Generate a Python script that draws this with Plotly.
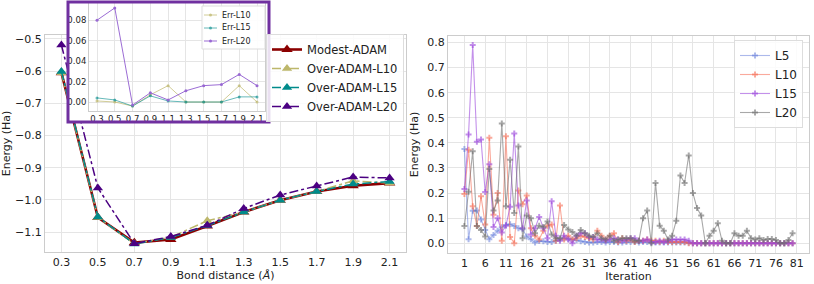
import plotly.graph_objects as go

W, H = 814, 284

# ---------------- data ----------------
bond = [0.3, 0.5, 0.7, 0.9, 1.1, 1.3, 1.5, 1.7, 1.9, 2.1]
modest = [-0.605, -1.055, -1.133, -1.123, -1.081, -1.038, -1.001, -0.974, -0.956, -0.948]
over_l10 = [-0.605, -1.055, -1.136, -1.116, -1.065, -1.038, -1.001, -0.974, -0.941, -0.948]
over_l15 = [-0.601, -1.053, -1.137, -1.117, -1.080, -1.038, -1.001, -0.974, -0.951, -0.943]
over_l20 = [-0.519, -0.963, -1.136, -1.114, -1.079, -1.027, -0.985, -0.957, -0.929, -0.932]

err_l10 = [0.001, 0.000, -0.004, 0.007, 0.016, 0.000, 0.000, 0.000, 0.016, 0.000]
err_l15 = [0.004, 0.002, -0.004, 0.006, 0.001, 0.000, 0.000, 0.000, 0.005, 0.005]
err_l20 = [0.080, 0.092, -0.003, 0.009, 0.002, 0.011, 0.016, 0.017, 0.027, 0.016]

iterations = list(range(1, 81))
it_l5 = [0.376, 0.016, 0.129, 0.130, 0.095, 0.053, 0.016, 0.033, 0.050, 0.064,
         0.073, 0.076, 0.069, 0.060, 0.056, 0.027, 0.016, 0.003, 0.009, 0.008,
         0.005, 0.005, 0.010, 0.015, 0.020, 0.018, 0.015, 0.012, 0.008, 0.005,
         0.003, 0.003, 0.005, 0.005, 0.003, 0.005, 0.005, 0.003, 0.003, 0.005,
         0.005, 0.005, 0.003, 0.005, 0.005, 0.003, 0.003, 0.003, 0.003, 0.003,
         0.003, 0.003, 0.003, 0.003, 0.002, 0.000, 0.000, 0.000, 0.000, 0.000,
         0.000, 0.000, 0.000, 0.000, 0.000, 0.000, 0.000, 0.000, 0.000, 0.000,
         0.000, 0.000, 0.000, 0.000, 0.000, 0.000, 0.000, 0.000, 0.000, 0.000]
it_l10 = [0.196, 0.373, 0.147, 0.069, 0.187, 0.075, 0.420, 0.113, 0.200, 0.010,
          0.426, 0.025, 0.000, 0.210, 0.155, 0.190, 0.060, 0.030, 0.015, 0.050,
          0.070, 0.075, 0.010, 0.150, 0.015, 0.030, 0.015, 0.020, 0.030, 0.025,
          0.020, 0.015, 0.050, 0.030, 0.015, 0.030, 0.040, 0.005, 0.020, 0.010,
          0.015, 0.005, 0.010, 0.010, 0.015, 0.010, 0.010, 0.005, 0.010, 0.005,
          0.005, 0.005, 0.005, 0.005, 0.000, 0.000, 0.000, 0.000, 0.000, 0.000,
          0.000, 0.000, 0.000, 0.000, 0.000, 0.000, 0.000, 0.000, 0.000, 0.000,
          0.000, 0.000, 0.000, 0.000, 0.000, 0.000, 0.000, 0.000, 0.000, 0.000]
it_l15 = [0.216, 0.433, 0.790, 0.404, 0.413, 0.204, 0.315, 0.065, 0.100, 0.043,
          0.070, 0.145, 0.437, 0.150, 0.060, 0.170, 0.035, 0.060, 0.105, 0.060,
          0.020, 0.167, 0.030, 0.010, 0.030, 0.015, 0.000, 0.030, 0.040, 0.040,
          0.025, 0.025, 0.015, 0.015, 0.010, 0.015, 0.020, 0.015, 0.010, 0.015,
          0.020, 0.020, 0.010, 0.010, 0.015, 0.005, 0.005, 0.010, 0.005, 0.010,
          0.015, 0.015, 0.015, 0.015, 0.010, 0.000, 0.000, 0.000, 0.000, 0.000,
          0.000, 0.000, 0.000, 0.000, 0.000, 0.000, 0.000, 0.000, 0.000, 0.000,
          0.000, 0.000, 0.000, 0.000, 0.000, 0.000, 0.000, 0.000, 0.000, 0.000]
it_l20 = [0.069, 0.205, 0.367, 0.069, 0.053, 0.027, 0.296, 0.130, 0.170, 0.477,
          0.147, 0.333, 0.120, 0.386, 0.020, 0.110, 0.100, 0.040, 0.070, 0.065,
          0.087, 0.035, 0.020, 0.020, 0.073, 0.055, 0.045, 0.030, 0.053, 0.040,
          0.030, 0.025, 0.040, 0.020, 0.015, 0.030, 0.010, 0.015, 0.020, 0.020,
          0.020, 0.010, 0.010, 0.100, 0.130, 0.000, 0.240, 0.070, 0.050, 0.015,
          0.030, 0.090, 0.270, 0.240, 0.350, 0.200, 0.140, 0.110, 0.000, 0.030,
          0.050, 0.080, 0.010, 0.000, 0.000, 0.040, 0.030, 0.030, 0.050, 0.020,
          0.015, 0.020, 0.013, 0.017, 0.017, 0.013, 0.000, 0.000, 0.013, 0.040]

# ---------------- helpers ----------------
def px(x):
    return x / W

def py(y):
    return 1 - y / H

FONT = "DejaVu Sans"
GRID = "#e5e5e5"
FRAME = "#cccccc"

fig = go.Figure()

# --- main left chart ---
main_series = [
    ("Modest-ADAM", modest, "#8b0000", "solid", 2.6, 10),
    ("Over-ADAM-L10", over_l10, "#bdb76b", "dashdot", 1.5, 9),
    ("Over-ADAM-L15", over_l15, "#008b8b", "dashdot", 1.5, 9),
    ("Over-ADAM-L20", over_l20, "#4b0082", "dashdot", 1.5, 9),
]
for name, ys, col, dash, lw, ms in main_series:
    fig.add_trace(go.Scatter(
        x=bond, y=ys, name=name, mode="lines+markers",
        line=dict(color=col, width=lw, dash=dash),
        marker=dict(symbol="triangle-up", size=ms, color=col),
        xaxis="x", yaxis="y", legend="legend"))

# --- white cover for inset box ---
fig.add_trace(go.Scatter(x=[0], y=[0], mode="markers", marker=dict(opacity=0),
                         showlegend=False, hoverinfo="skip", xaxis="x2", yaxis="y2"))

# --- inset ---
inset_series = [
    ("Err-L10", err_l10, "rgba(189,183,107,0.7)"),
    ("Err-L15", err_l15, "rgba(0,139,139,0.6)"),
    ("Err-L20", err_l20, "rgba(150,100,210,0.95)"),
]
for name, ys, col in inset_series:
    fig.add_trace(go.Scatter(
        x=bond, y=ys, name=name, mode="lines+markers",
        line=dict(color=col, width=1),
        marker=dict(symbol="circle", size=3, color=col),
        xaxis="x3", yaxis="y3", showlegend=False))

# --- right chart ---
right_series = [
    ("L5", it_l5, "rgba(90,115,215,0.5)"),
    ("L10", it_l10, "rgba(245,100,75,0.55)"),
    ("L15", it_l15, "rgba(155,70,220,0.6)"),
    ("L20", it_l20, "rgba(110,110,110,0.6)"),
]
for name, ys, col in right_series:
    fig.add_trace(go.Scatter(
        x=iterations, y=ys, name=name, mode="lines+markers",
        line=dict(color=col, width=1.1),
        marker=dict(symbol="cross", size=5, color=col),
        xaxis="x4", yaxis="y4", legend="legend3"))

tickfont = dict(family=FONT, size=11, color="#222")
titlefont = dict(family=FONT, size=11, color="#222")

common = dict(showgrid=True, gridcolor=GRID, gridwidth=1, zeroline=False,
              showline=True, linecolor=FRAME, linewidth=1, mirror=True,
              ticks="", tickfont=tickfont, automargin=False)
small = {**common, "tickfont": dict(family=FONT, size=8.5, color="#222")}

# --- compact legend for the inset (drawn as layout decorations) ---
shapes = [dict(type="rect", xref="paper", yref="paper",
               x0=px(202), x1=px(265), y0=py(49), y1=py(6),
               line=dict(color="#dddddd", width=1), fillcolor="rgba(255,255,255,0.9)",
               layer="above")]
annotations = []
for k, (name, _, col) in enumerate(inset_series):
    yy = 15 + 13 * k
    shapes.append(dict(type="line", xref="paper", yref="paper",
                       x0=px(204), x1=px(217), y0=py(yy), y1=py(yy),
                       line=dict(color=col, width=1), layer="above"))
    shapes.append(dict(type="circle", xref="paper", yref="paper",
                       x0=px(209), x1=px(212), y0=py(yy + 1.5), y1=py(yy - 1.5),
                       line=dict(color=col, width=0), fillcolor=col, layer="above"))
    annotations.append(dict(text=name, xref="paper", yref="paper", x=px(220), y=py(yy),
                            xanchor="left", yanchor="middle", showarrow=False,
                            font=dict(family=FONT, size=8, color="#222")))

shapes.append(dict(type="rect", xref="paper", yref="paper",
                   x0=px(68), x1=px(269), y0=py(122), y1=py(2),
                   line=dict(color="#7030a0", width=3), fillcolor="rgba(0,0,0,0)",
                   layer="above"))

fig.update_layout(
    template="none",
    width=W, height=H,
    margin=dict(l=0, r=0, t=0, b=0, autoexpand=False),
    paper_bgcolor="white", plot_bgcolor="white",
    font=dict(family=FONT, color="#222"),
    showlegend=True,
    xaxis=dict(domain=[px(45), px(406)], range=[0.21, 2.19], tick0=0.3, dtick=0.2,
               tickformat=".1f", anchor="y",
               title=dict(text="Bond distance (<i>Å</i>)", font=titlefont, standoff=2),
               **common),
    yaxis=dict(domain=[py(252), py(35)], range=[-1.162, -0.488], dtick=0.1, tick0=-1.1,
               tickformat=".1f", anchor="x",
               title=dict(text="Energy (Ha)", font=titlefont, standoff=6),
               **common),
    xaxis2=dict(domain=[px(68), px(269)], visible=False, anchor="y2", range=[0, 1]),
    yaxis2=dict(domain=[py(122), py(2)], visible=False, anchor="x2", range=[0, 1]),
    xaxis3=dict(domain=[px(89), px(265)], range=[0.21, 2.19], tick0=0.3, dtick=0.2,
                tickformat=".1f", anchor="y3", **small),
    yaxis3=dict(domain=[py(111), py(3)], range=[-0.0088, 0.0968], tick0=0, dtick=0.02,
                tickformat=".2f", anchor="x3", **small),
    xaxis4=dict(domain=[px(448), px(809)], range=[-2.95, 83.95], tick0=1, dtick=5,
                anchor="y4",
                title=dict(text="Iteration", font=titlefont, standoff=2),
                **common),
    yaxis4=dict(domain=[py(253), py(36)], range=[-0.039, 0.826], tick0=0, dtick=0.1,
                tickformat=".1f", anchor="x4",
                title=dict(text="Energy (Ha)", font=titlefont, standoff=6),
                **common),
    legend=dict(x=px(266), y=py(34), xanchor="left", yanchor="top",
                bgcolor="rgba(255,255,255,0.85)", bordercolor="#dddddd", borderwidth=1,
                font=dict(family=FONT, size=11.5, color="#222"), tracegroupgap=0,
                itemwidth=30),
    legend3=dict(x=px(803), y=py(40), xanchor="right", yanchor="top",
                 bgcolor="rgba(255,255,255,0.85)", bordercolor="#dddddd", borderwidth=1,
                 font=dict(family=FONT, size=12, color="#222"), itemwidth=30),
    shapes=shapes,
    annotations=annotations,
)

fig.write_html("out.html", config={"displayModeBar": False},
               post_script="document.body.style.margin='0';document.body.style.overflow='hidden';")
